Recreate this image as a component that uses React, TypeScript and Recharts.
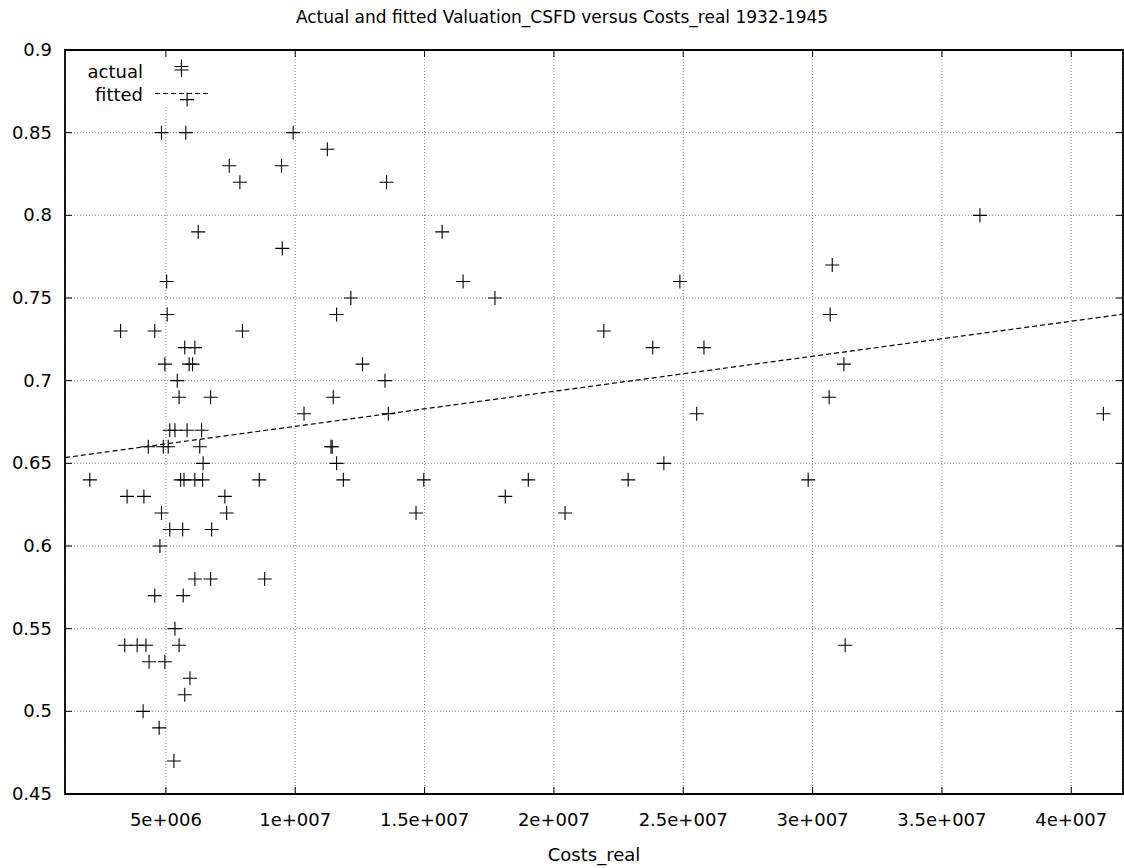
import React from 'react';
import {
  ComposedChart,
  Scatter,
  Line,
  XAxis,
  YAxis,
  CartesianGrid,
  ReferenceArea,
  Legend,
} from 'recharts';

// Production costs (real terms) of each film and its CSFD valuation
const costsReal = [
  5.6e6, 5.82e6, 4.83e6, 5.77e6, 9.92e6, 11.24e6, 7.45e6, 9.47e6, 7.86e6, 13.53e6,
  36.47e6, 6.25e6, 15.68e6, 9.5e6, 30.76e6, 5.03e6, 16.49e6, 24.87e6, 12.15e6, 17.72e6,
  5.05e6, 11.6e6, 30.68e6, 3.25e6, 4.57e6, 7.96e6, 21.93e6, 5.73e6, 6.12e6, 23.82e6,
  25.8e6, 4.96e6, 5.9e6, 6.03e6, 12.6e6, 31.21e6, 5.44e6, 13.47e6, 5.51e6, 6.73e6,
  11.47e6, 30.64e6, 10.34e6, 13.6e6, 25.52e6, 41.24e6, 5.15e6, 5.35e6, 5.82e6, 6.38e6,
  4.32e6, 4.9e6, 5.09e6, 6.31e6, 11.38e6, 11.43e6, 6.44e6, 11.6e6, 24.25e6, 2.06e6,
  5.57e6, 5.7e6, 6.12e6, 6.42e6, 8.61e6, 11.86e6, 14.97e6, 19.01e6, 22.87e6, 29.83e6,
  3.5e6, 4.15e6, 7.28e6, 18.12e6, 4.83e6, 7.35e6, 14.67e6, 20.43e6, 5.15e6, 5.65e6,
  6.77e6, 4.77e6, 6.12e6, 6.73e6, 8.82e6, 4.57e6, 5.67e6, 5.35e6, 3.41e6, 3.89e6,
  4.23e6, 5.51e6, 31.26e6, 4.35e6, 4.96e6, 5.93e6, 5.73e6, 4.12e6, 4.74e6, 5.31e6,
];

const valuationCsfd = [
  0.89, 0.87, 0.85, 0.85, 0.85, 0.84, 0.83, 0.83, 0.82, 0.82,
  0.8, 0.79, 0.79, 0.78, 0.77, 0.76, 0.76, 0.76, 0.75, 0.75,
  0.74, 0.74, 0.74, 0.73, 0.73, 0.73, 0.73, 0.72, 0.72, 0.72,
  0.72, 0.71, 0.71, 0.71, 0.71, 0.71, 0.7, 0.7, 0.69, 0.69,
  0.69, 0.69, 0.68, 0.68, 0.68, 0.68, 0.67, 0.67, 0.67, 0.67,
  0.66, 0.66, 0.66, 0.66, 0.66, 0.66, 0.65, 0.65, 0.65, 0.64,
  0.64, 0.64, 0.64, 0.64, 0.64, 0.64, 0.64, 0.64, 0.64, 0.64,
  0.63, 0.63, 0.63, 0.63, 0.62, 0.62, 0.62, 0.62, 0.61, 0.61,
  0.61, 0.6, 0.58, 0.58, 0.58, 0.57, 0.57, 0.55, 0.54, 0.54,
  0.54, 0.54, 0.54, 0.53, 0.53, 0.52, 0.51, 0.5, 0.49, 0.47,
];

// Fitted regression line, end points across the plotted range
const fittedCosts = [1.1e6, 4.2e7];
const fittedValuation = [0.6535, 0.7402];

const xTicks = [5e6, 1e7, 1.5e7, 2e7, 2.5e7, 3e7, 3.5e7, 4e7];
const xTickLabels = ['5e+006', '1e+007', '1.5e+007', '2e+007', '2.5e+007', '3e+007', '3.5e+007', '4e+007'];
const yTicks = [0.45, 0.5, 0.55, 0.6, 0.65, 0.7, 0.75, 0.8, 0.85, 0.9];
const yTickLabels = ['0.45', '0.5', '0.55', '0.6', '0.65', '0.7', '0.75', '0.8', '0.85', '0.9'];

const X_DOMAIN: [number, number] = [1.1e6, 4.2e7];
const Y_DOMAIN: [number, number] = [0.45, 0.9];

const WIDTH = 1124;
const HEIGHT = 868;
const PLOT_TOP = 50;
const PLOT_LEFT = 65;
const PLOT_RIGHT = 1123;
const FONT = '"DejaVu Sans", Verdana, sans-serif';
const FONT_SIZE = 18;

const actualPoints = costsReal.map((x, i) => ({ x, y: valuationCsfd[i] }));
const fittedPoints = fittedCosts.map((x, i) => ({ x, y: fittedValuation[i] }));

const Cross = (props: any) => {
  const { cx, cy } = props;
  if (cx == null || cy == null) return <g />;
  return (
    <path
      d={`M${cx - 7},${cy}h14M${cx},${cy - 7}v14`}
      stroke="#000"
      strokeWidth={1.1}
      fill="none"
    />
  );
};

const XTick = (props: any) => {
  const { x, y, payload } = props;
  const idx = xTicks.indexOf(payload.value);
  return (
    <g>
      <line x1={x} x2={x} y1={y} y2={y - 7} stroke="#000" strokeWidth={1} />
      <line x1={x} x2={x} y1={PLOT_TOP} y2={PLOT_TOP + 7} stroke="#000" strokeWidth={1} />
      <text
        x={x}
        y={y + 32}
        textAnchor="middle"
        fontFamily={FONT}
        fontSize={FONT_SIZE}
        fill="#000"
      >
        {idx >= 0 ? xTickLabels[idx] : ''}
      </text>
    </g>
  );
};

const YTick = (props: any) => {
  const { x, y, payload } = props;
  const idx = yTicks.findIndex((t) => Math.abs(t - payload.value) < 1e-9);
  return (
    <g>
      <line x1={x} x2={x + 7} y1={y} y2={y} stroke="#000" strokeWidth={1} />
      <line x1={PLOT_RIGHT} x2={PLOT_RIGHT - 7} y1={y} y2={y} stroke="#000" strokeWidth={1} />
      <text
        x={x - 13}
        y={y + 6}
        textAnchor="end"
        fontFamily={FONT}
        fontSize={FONT_SIZE}
        fill="#000"
      >
        {idx >= 0 ? yTickLabels[idx] : ''}
      </text>
    </g>
  );
};

const KeyBox = () => (
  <svg width={220} height={110} style={{ display: 'block' }}>
    <text x={143} y={78} textAnchor="end" fontFamily={FONT} fontSize={FONT_SIZE} fill="#000">
      actual
    </text>
    <path d="M174.5,70h14M181.5,63v14" stroke="#000" strokeWidth={1.1} fill="none" />
    <text x={143} y={101} textAnchor="end" fontFamily={FONT} fontSize={FONT_SIZE} fill="#000">
      fitted
    </text>
    <line x1={155} x2={208} y1={93.5} y2={93.5} stroke="#000" strokeWidth={1.2} strokeDasharray="5 3" />
  </svg>
);

export default function App() {
  return (
    <div
      style={{
        position: 'absolute',
        left: 0,
        top: 0,
        width: WIDTH,
        height: HEIGHT,
        background: '#fff',
        fontFamily: FONT,
      }}
    >
      <div
        style={{
          position: 'absolute',
          left: 0,
          top: 6,
          width: WIDTH,
          textAlign: 'center',
          fontSize: 17,
          lineHeight: '22px',
          color: '#000',
          fontFamily: FONT,
        }}
      >
        Actual and fitted Valuation_CSFD versus Costs_real 1932-1945
      </div>
      <ComposedChart
        width={WIDTH}
        height={HEIGHT}
        margin={{ top: PLOT_TOP, right: WIDTH - PLOT_RIGHT, bottom: 0, left: 0 }}
      >
        <CartesianGrid stroke="#8a8a8a" strokeDasharray="1 2" strokeWidth={1} />
        <ReferenceArea
          x1={X_DOMAIN[0]}
          x2={6.8e6}
          y1={0.866}
          y2={Y_DOMAIN[1]}
          fill="#fff"
          fillOpacity={1}
          stroke="none"
        />
        <XAxis
          type="number"
          dataKey="x"
          domain={X_DOMAIN}
          ticks={xTicks}
          allowDataOverflow
          tickSize={0}
          tickMargin={0}
          tickLine={false}
          axisLine={false}
          tick={<XTick />}
          height={HEIGHT - 794}
          label={{
            value: 'Costs_real',
            position: 'insideBottom',
            offset: 7,
            fontFamily: FONT,
            fontSize: FONT_SIZE,
            fill: '#000',
          }}
        />
        <YAxis
          type="number"
          dataKey="y"
          domain={Y_DOMAIN}
          ticks={yTicks}
          allowDataOverflow
          tickSize={0}
          tickMargin={0}
          tickLine={false}
          axisLine={false}
          tick={<YTick />}
          width={PLOT_LEFT}
        />
        <Scatter
          name="actual"
          data={actualPoints}
          shape={<Cross />}
          isAnimationActive={false}
        />
        <Line
          name="fitted"
          data={fittedPoints}
          dataKey="y"
          type="linear"
          stroke="#000"
          strokeWidth={1.2}
          strokeDasharray="5 3"
          dot={false}
          activeDot={false}
          isAnimationActive={false}
        />
        <ReferenceArea
          x1={X_DOMAIN[0]}
          x2={X_DOMAIN[1]}
          y1={Y_DOMAIN[0]}
          y2={Y_DOMAIN[1]}
          fill="none"
          stroke="#000"
          strokeWidth={1.8}
        />
        <Legend
          layout="horizontal"
          verticalAlign="middle"
          align="center"
          wrapperStyle={{ left: 0, top: 0, width: 220, height: 110 }}
          content={() => <KeyBox />}
        />
      </ComposedChart>
    </div>
  );
}
